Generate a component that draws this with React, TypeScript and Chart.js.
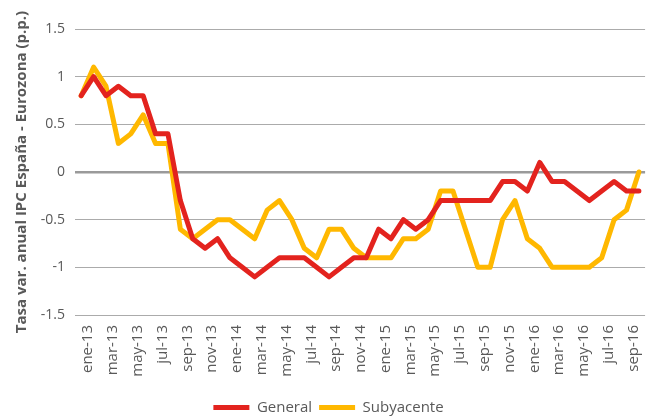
import React, { useEffect, useRef } from 'react';
import { Chart, registerables } from 'chart.js';

Chart.register(...registerables);

const months: string[] = [
  'ene-13', 'feb-13', 'mar-13', 'abr-13', 'may-13', 'jun-13', 'jul-13', 'ago-13', 'sep-13', 'oct-13', 'nov-13', 'dic-13',
  'ene-14', 'feb-14', 'mar-14', 'abr-14', 'may-14', 'jun-14', 'jul-14', 'ago-14', 'sep-14', 'oct-14', 'nov-14', 'dic-14',
  'ene-15', 'feb-15', 'mar-15', 'abr-15', 'may-15', 'jun-15', 'jul-15', 'ago-15', 'sep-15', 'oct-15', 'nov-15', 'dic-15',
  'ene-16', 'feb-16', 'mar-16', 'abr-16', 'may-16', 'jun-16', 'jul-16', 'ago-16', 'sep-16', 'oct-16',
];

const general: number[] = [
  0.8, 1.0, 0.8, 0.9, 0.8, 0.8, 0.4, 0.4, -0.3, -0.7, -0.8, -0.7,
  -0.9, -1.0, -1.1, -1.0, -0.9, -0.9, -0.9, -1.0, -1.1, -1.0, -0.9, -0.9,
  -0.6, -0.7, -0.5, -0.6, -0.5, -0.3, -0.3, -0.3, -0.3, -0.3, -0.1, -0.1,
  -0.2, 0.1, -0.1, -0.1, -0.2, -0.3, -0.2, -0.1, -0.2, -0.2,
];

const subyacente: number[] = [
  0.8, 1.1, 0.9, 0.3, 0.4, 0.6, 0.3, 0.3, -0.6, -0.7, -0.6, -0.5,
  -0.5, -0.6, -0.7, -0.4, -0.3, -0.5, -0.8, -0.9, -0.6, -0.6, -0.8, -0.9,
  -0.9, -0.9, -0.7, -0.7, -0.6, -0.2, -0.2, -0.6, -1.0, -1.0, -0.5, -0.3,
  -0.7, -0.8, -1.0, -1.0, -1.0, -1.0, -0.9, -0.5, -0.4, 0.0,
];

const seriesNames = ['General', 'Subyacente'];
const yAxisTitle = 'Tasa var. anual IPC España - Eurozona (p.p.)';
const yMin = -1.5;
const yMax = 1.5;
const yStep = 0.5;

const RED = '#E3231E';
const YELLOW = '#FFB800';
const TEXT = '#595959';
const FONT = '"Open Sans", "Noto Sans", sans-serif';

export default function App() {
  const ref = useRef<HTMLCanvasElement>(null);

  useEffect(() => {
    document.body.style.margin = '0';
    const canvas = ref.current;
    if (!canvas) return;
    const chart = new Chart(canvas, {
      type: 'line',
      data: {
        labels: months,
        datasets: [
          {
            label: seriesNames[0],
            data: general,
            borderColor: RED,
            backgroundColor: RED,
            borderWidth: 5,
            pointRadius: 0,
            borderCapStyle: 'round',
            borderJoinStyle: 'round',
            tension: 0,
          },
          {
            label: seriesNames[1],
            data: subyacente,
            borderColor: YELLOW,
            backgroundColor: YELLOW,
            borderWidth: 5,
            pointRadius: 0,
            borderCapStyle: 'round',
            borderJoinStyle: 'round',
            tension: 0,
          },
        ],
      },
      options: {
        responsive: false,
        animation: false,
        layout: { padding: { top: 29, right: 10, left: 0, bottom: -8 } },
        scales: {
          x: {
            offset: true,
            grid: { display: false, drawTicks: false },
            border: { display: false },
            ticks: {
              autoSkip: false,
              maxRotation: 90,
              minRotation: 90,
              padding: 10,
              labelOffset: 7,
              color: TEXT,
              font: { family: FONT, size: 15 },
              callback: (_v: any, i: number) => (i % 2 === 0 ? months[i] : ''),
            },
            afterFit: (s: any) => {
              s.height = 78;
            },
          },
          y: {
            min: yMin,
            max: yMax,
            ticks: {
              stepSize: yStep,
              padding: 10,
              color: TEXT,
              font: { family: FONT, size: 14 },
              callback: (v: any) => String(v),
            },
            grid: {
              drawTicks: false,
              color: (ctx: any) => (ctx.tick && ctx.tick.value === 0 ? '#9A9A9A' : '#ABABAB'),
              lineWidth: (ctx: any) => (ctx.tick && ctx.tick.value === 0 ? 2.5 : 1),
            },
            border: { display: false },
            title: {
              display: true,
              text: yAxisTitle,
              color: TEXT,
              font: { family: FONT, size: 15, weight: 'bold' },
              padding: { top: 13, bottom: 0 },
            },
            afterFit: (s: any) => {
              s.width = 75;
            },
          },
        },
        plugins: {
          legend: {
            position: 'bottom',
            labels: {
              usePointStyle: true,
              pointStyle: 'line',
              pointStyleWidth: 36,
              color: TEXT,
              font: { family: FONT, size: 15 },
              padding: 7,
            },
          },
          tooltip: { enabled: false },
        },
      },
    } as any);
    return () => chart.destroy();
  }, []);

  return <canvas ref={ref} width={667} height={417} style={{ display: 'block' }} />;
}
